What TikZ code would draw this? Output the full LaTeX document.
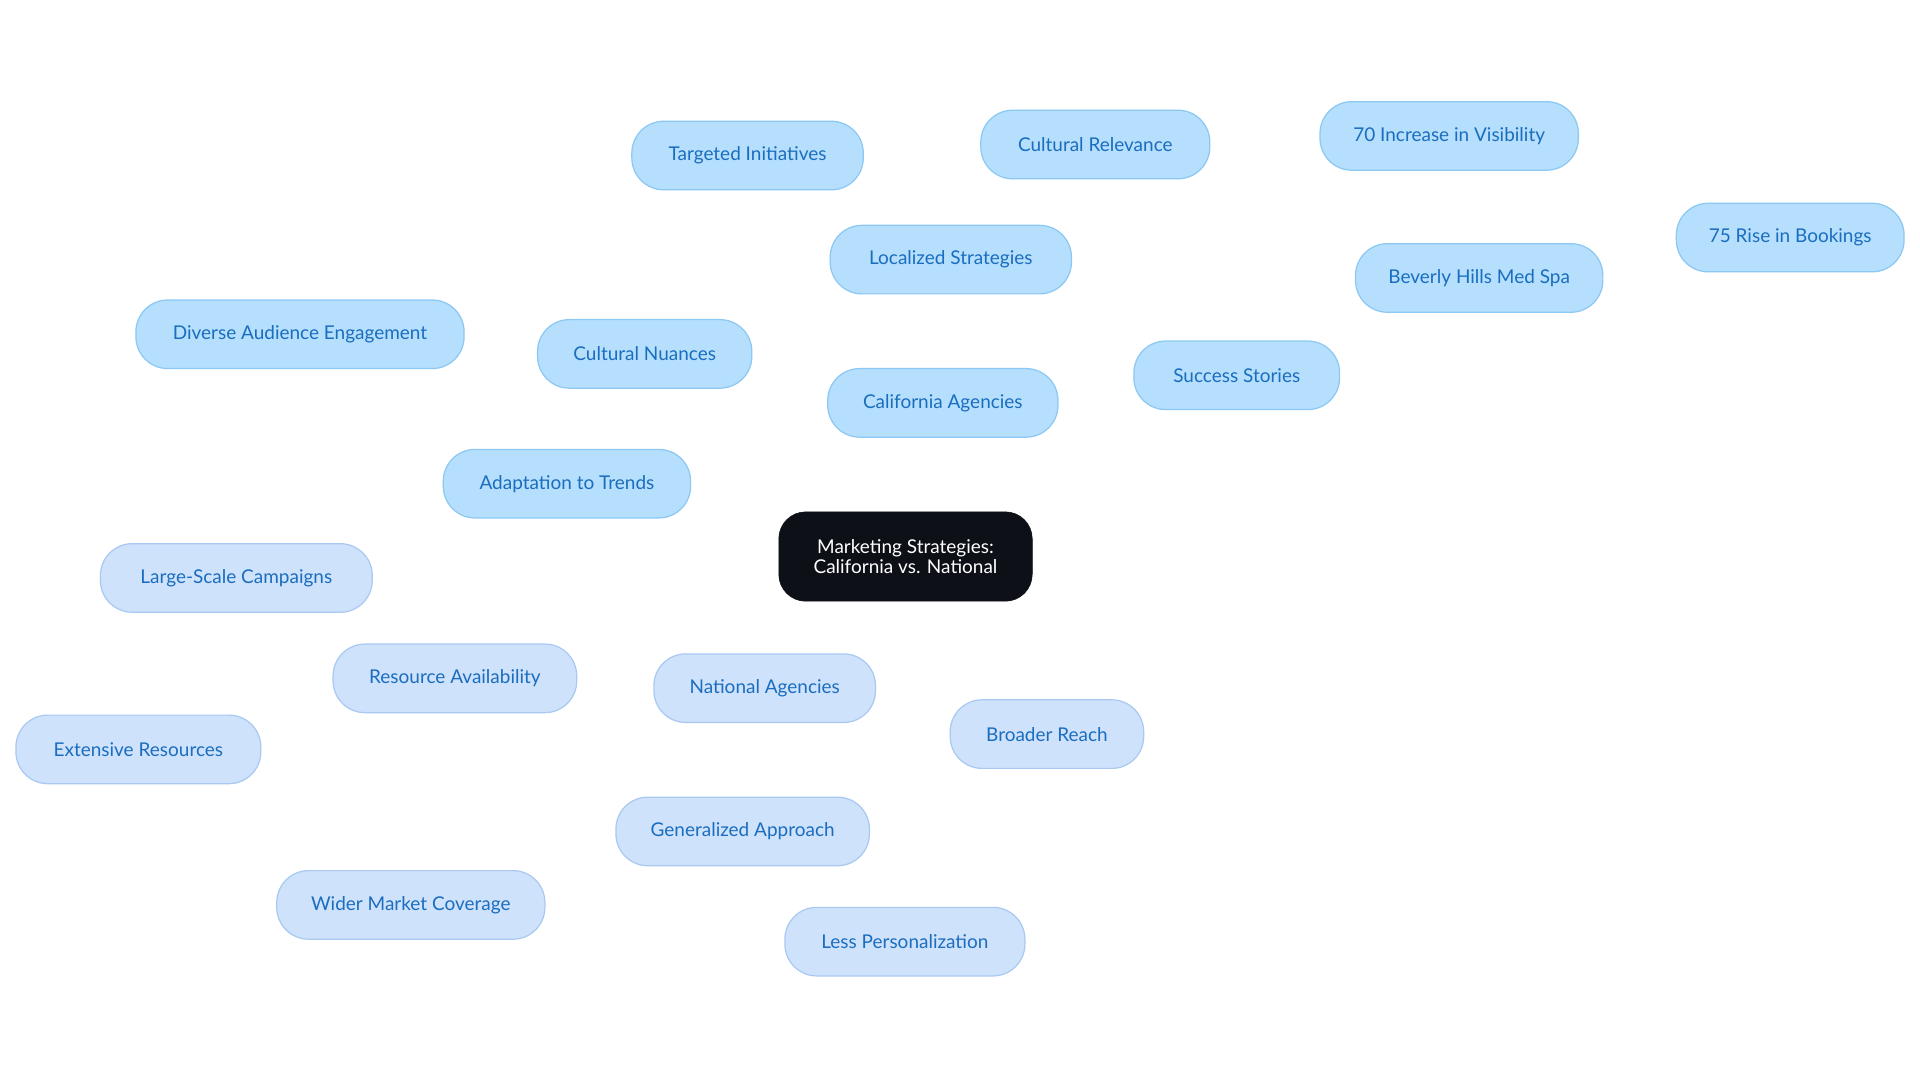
\documentclass[tikz,border=0pt]{standalone}
\usepackage{fontspec}
\setmainfont{Lato}
\definecolor{cafill}{HTML}{B5DFFC}
\definecolor{cadraw}{HTML}{8CC8F3}
\definecolor{nafill}{HTML}{CFE2FB}
\definecolor{nadraw}{HTML}{A9C9F2}
\definecolor{txt}{HTML}{1A6DBF}
\definecolor{rootc}{HTML}{0D1117}
\definecolor{caline}{HTML}{7DBDEF}
\definecolor{naline}{HTML}{9CC0EF}
\tikzset{
 base/.style={rounded corners=26pt, minimum height=56pt, inner sep=0pt, font=\fontsize{15.5}{17}\selectfont, text=txt, line width=1pt},
 ca/.style={base, fill=cafill, draw=cadraw},
 na/.style={base, fill=nafill, draw=nadraw},
 rootbox/.style={rounded corners=22pt, fill=rootc, draw=rootc, text=white, minimum height=73pt, minimum width=207pt, font=\fontsize{15.5}{16}\selectfont, align=center},
 cl/.style={draw=caline, line width=2pt},
 nl/.style={draw=naline, line width=2pt}
}
\begin{document}
\begin{tikzpicture}[x=1pt,y=-1pt]
\useasboundingbox[fill=white] (0,0) rectangle (1568,884.5);
\node[rootbox] (root) at (739.5,454.5) {Marketing Strategies:\\California vs. National};
\node[ca,minimum width=188pt] (cal) at (770,329) {California Agencies};
\node[ca,minimum width=197pt] (loc) at (776.5,212) {Localized Strategies};
\node[ca,minimum width=189pt] (tar) at (610.5,127) {Targeted Initiatives};
\node[ca,minimum width=187pt] (cre) at (894.5,118) {Cultural Relevance};
\node[ca,minimum width=175pt] (cnu) at (526.5,289) {Cultural Nuances};
\node[ca,minimum width=268pt] (div) at (245,273) {Diverse Audience Engagement};
\node[ca,minimum width=202pt] (ada) at (463,395) {Adaptation to Trends};
\node[ca,minimum width=168pt] (suc) at (1010,306.5) {Success Stories};
\node[ca,minimum width=202pt] (bev) at (1208,227) {Beverly Hills Med Spa};
\node[ca,minimum width=211pt] (vis) at (1183.5,111) {70 Increase in Visibility};
\node[ca,minimum width=186pt] (boo) at (1462,194) {75 Rise in Bookings};
\node[na,minimum width=181pt] (nat) at (624.5,562) {National Agencies};
\node[na,minimum width=199pt] (res) at (371.5,554) {Resource Availability};
\node[na,minimum width=222pt] (lar) at (193,472) {Large-Scale Campaigns};
\node[na,minimum width=200pt] (ext) at (113,612) {Extensive Resources};
\node[na,minimum width=158pt] (bro) at (855,599.5) {Broader Reach};
\node[na,minimum width=207pt] (gen) at (606.5,679) {Generalized Approach};
\node[na,minimum width=219pt] (wid) at (335.5,739) {Wider Market Coverage};
\node[na,minimum width=196pt] (les) at (739,769) {Less Personalization};
\begin{scope}[on background layer/.style={}]
\end{scope}
\end{tikzpicture}
\end{document}
